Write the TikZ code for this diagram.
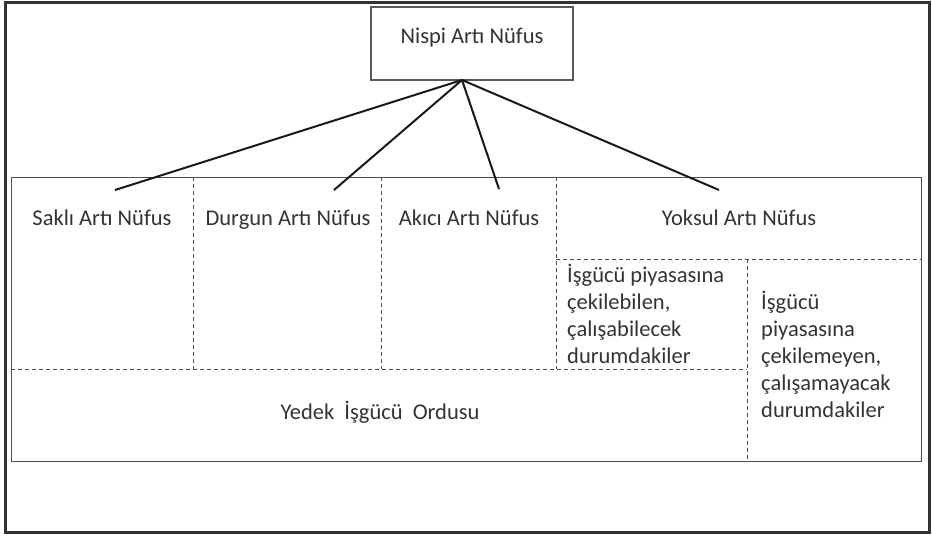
\documentclass[tikz,border=0pt]{standalone}
\usepackage{fontspec}
\setmainfont{Carlito}
\definecolor{txtgray}{HTML}{333333}
\begin{document}
\begin{tikzpicture}[x=1pt,y=-1pt,
  txt/.style={inner sep=0pt, text=txtgray, font=\fontsize{22.5}{27}\selectfont},
  outerframe/.style={draw=black!80, line width=3pt},
  topbox/.style={draw=black!65, line width=1.2pt, minimum width=202pt, minimum height=73pt, inner sep=0pt},
  mainbox/.style={draw=black!70, line width=1pt},
  divider/.style={draw=black!70, line width=0.9pt, dash pattern=on 4pt off 3pt},
  link/.style={draw=black!90, line width=2pt}]
\useasboundingbox (0,0) rectangle (932,536);
\draw[outerframe] (5,2.5) rectangle (929.5,532);
% top box
\node[topbox] (top) at (472,43.5) {};
\node[txt, anchor=base] (toptext) at (472,43) {Nispi Artı Nüfus};
\coordinate (apex) at (462,80);
% main box
\draw[mainbox] (11,177) rectangle (921,461);
% dividers
\draw[divider] (193,177) -- (193,369);
\draw[divider] (381,177) -- (381,369);
\draw[divider] (556,177) -- (556,369);
\draw[divider] (556,259) -- (921,259);
\draw[divider] (11,369) -- (747,369);
\draw[divider] (747,259) -- (747,461);
% headings
\node[txt, anchor=base] (sakli) at (102,225) {Saklı Artı Nüfus};
\node[txt, anchor=base] (durgun) at (288,225) {Durgun Artı Nüfus};
\node[txt, anchor=base] (akici) at (469,225) {Akıcı Artı Nüfus};
\node[txt, anchor=base] (yoksul) at (739,225) {Yoksul Artı Nüfus};
\coordinate (e1) at (115,190);
\coordinate (e2) at (334,190);
\coordinate (e3) at (499,189);
\coordinate (e4) at (719,190);
\draw[link] (apex) -- (e1);
\draw[link] (apex) -- (e2);
\draw[link] (apex) -- (e3);
\draw[link] (apex) -- (e4);
% sub groups (anchor = baseline of the last line)
\node[txt, anchor=base west, align=left] (cek) at (567,363) {İşgücü piyasasına\\çekilebilen,\\çalışabilecek\\durumdakiler};
\node[txt, anchor=base west, align=left] (cekme) at (761,417) {İşgücü\\piyasasına\\çekilemeyen,\\çalışamayacak\\durumdakiler};
\node[txt, anchor=base] (yedek) at (380,419) {Yedek\hspace{0.45em}İşgücü\hspace{0.45em}Ordusu};
\end{tikzpicture}
\end{document}
